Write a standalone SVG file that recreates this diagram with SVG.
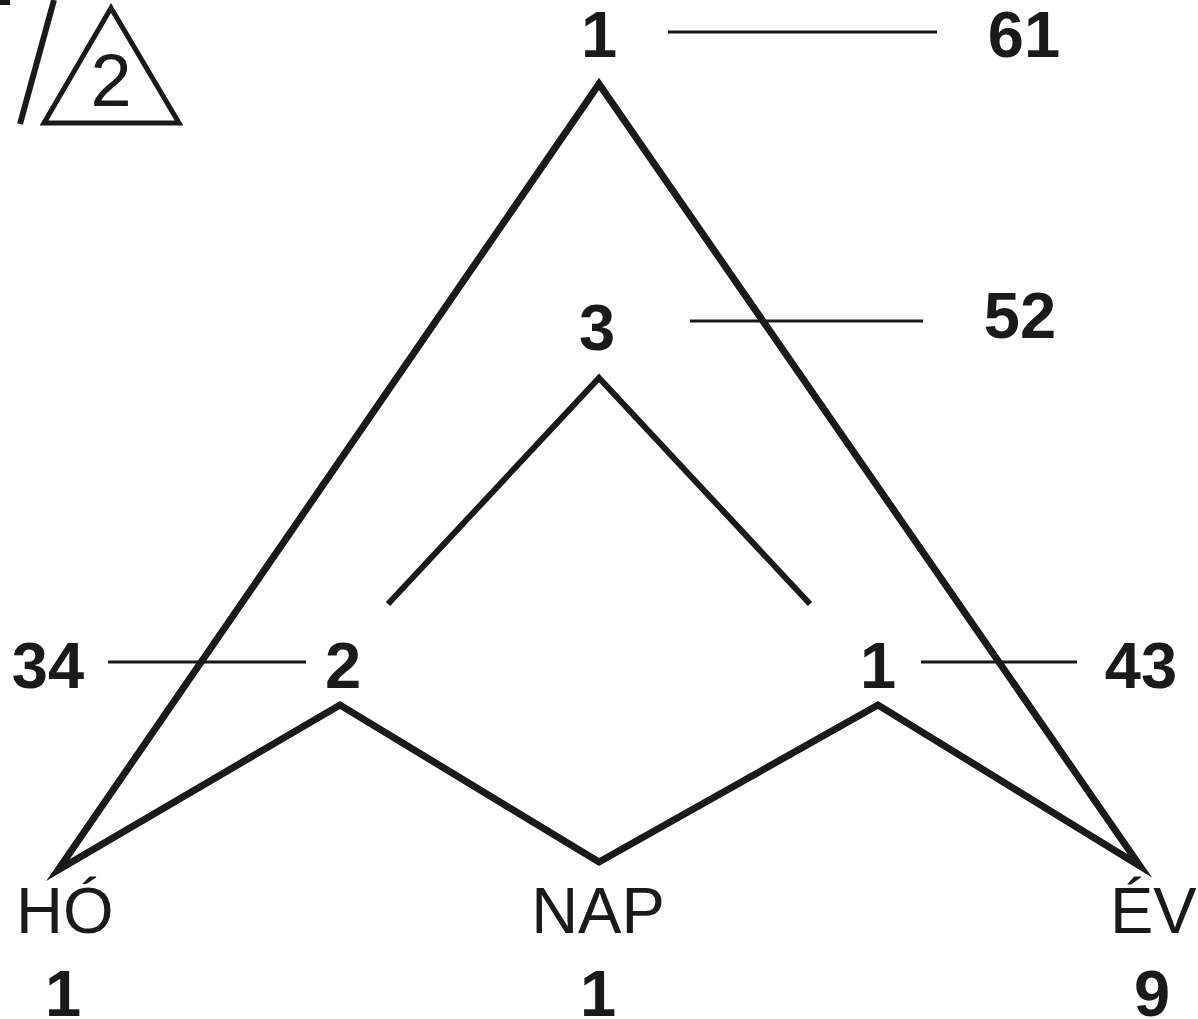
<svg xmlns="http://www.w3.org/2000/svg" width="1198" height="1019" viewBox="0 0 1198 1019">
<style>
.thick{fill:none;stroke:#1a1a18;stroke-width:7;stroke-linejoin:miter;stroke-miterlimit:30}
.mid{fill:none;stroke:#1a1a18;stroke-width:6}
.thin{fill:none;stroke:#1a1a18;stroke-width:3}
.b{font-family:"Liberation Sans",Arial,sans-serif;font-weight:bold;font-size:65px;fill:#1a1a18;text-anchor:middle}
.r{font-family:"Liberation Sans",Arial,sans-serif;font-size:65px;fill:#1a1a18}
</style>
<rect width="1198" height="1019" fill="#ffffff"/>
<g id="corner">
<rect x="0" y="0" width="10" height="5" fill="#1a1a18"/>
<line x1="54" y1="0" x2="20" y2="124" class="mid" stroke-width="5"/>
<polygon points="111,8 44,123 179,123" fill="none" stroke="#1a1a18" stroke-width="5"/>
<text x="111" y="106" font-family="Liberation Sans,Arial,sans-serif" font-size="74" fill="#1a1a18" text-anchor="middle">2</text>
</g>
<g id="connectors">
<path class="thick" d="M58,870 L599,84 L1140,866 L878,705 L599,862 L340,705 Z"/>
<polyline class="mid" points="388,604 599,378 810,604"/>
<line class="thin" x1="668" y1="32" x2="937" y2="32"/>
<line class="thin" x1="690" y1="321" x2="923" y2="321"/>
<line class="thin" x1="108" y1="662" x2="306" y2="662"/>
<line class="thin" x1="921" y1="662" x2="1077" y2="662"/>
</g>
<g id="node-top">
<text class="b" x="599" y="57">1</text>
<text class="b" x="1024" y="57">61</text>
</g>
<g id="node-inner">
<text class="b" x="597" y="350">3</text>
<text class="b" x="1020" y="338">52</text>
</g>
<g id="node-left">
<text class="b" x="48" y="688">34</text>
<text class="b" x="343" y="688">2</text>
</g>
<g id="node-right">
<text class="b" x="878" y="688">1</text>
<text class="b" x="1141" y="688">43</text>
</g>
<g id="node-ho">
<text class="r" x="16" y="933">HÓ</text>
<text class="b" x="63" y="1016">1</text>
</g>
<g id="node-nap">
<text class="r" x="598" y="933" text-anchor="middle">NAP</text>
<text class="b" x="598" y="1016">1</text>
</g>
<g id="node-ev">
<text class="r" x="1110" y="933">ÉV</text>
<text class="b" x="1152" y="1016">9</text>
</g>
</svg>
